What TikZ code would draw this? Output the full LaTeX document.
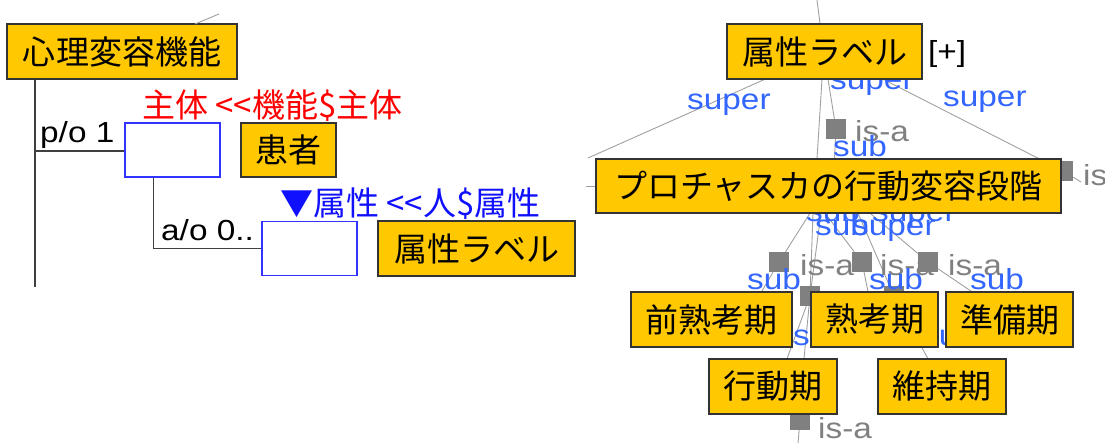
\documentclass[tikz,border=0pt]{standalone}
\usepackage{fontspec}
\usetikzlibrary{calc}
\newfontfamily\jp{Noto Sans CJK JP}
\newfontfamily\lat[FakeStretch=1.15]{Liberation Sans}
\definecolor{boxfill}{HTML}{FFC800}
\definecolor{boxline}{HTML}{333333}
\definecolor{lblue}{HTML}{3366FF}
\definecolor{dblue}{HTML}{1010FF}
\definecolor{isagray}{HTML}{808080}
\definecolor{lgray}{HTML}{A0A0A0}
\definecolor{dline}{HTML}{404040}
\definecolor{slotline}{HTML}{3333FF}
\definecolor{redlab}{HTML}{FF0000}
\begin{document}
\begin{tikzpicture}[x=1pt,y=-1pt,
 cbox/.style={draw=boxline, fill=boxfill, line width=1.3pt, inner sep=0pt,
   font=\jp\fontsize{33}{38}\selectfont, text=black},
 slot/.style={draw=slotline, fill=white, line width=1.2pt, inner sep=0pt,
   minimum width=95pt, minimum height=54pt},
 sq/.style={fill=isagray, inner sep=0pt, minimum size=20pt},
 rel/.style={draw=lgray, line width=0.9pt},
 tree/.style={draw=dline, line width=1.5pt},
 lab/.style={font=\lat\fontsize{29}{33}\selectfont, inner sep=0pt, anchor=base west},
 jlab/.style={font=\jp\fontsize{33}{38}\selectfont, inner sep=0pt, anchor=base west},
 suplab/.style={lab, text=lblue},
 isalab/.style={lab, text=isagray},
]
\useasboundingbox (0,0) rectangle (1105,443);

% ================= left part =================
\coordinate (d0) at (195,24);
\coordinate (d1) at (219,14);
\coordinate (vtop) at (35,79);
\coordinate (vb) at (35,287);
\coordinate (j1) at (35,151);

\draw[tree] (vtop) -- (vb);
\node[slot] (slotA) at (172.5,150) {};
\node[slot] (slotB) at (309.5,248.5) {};
\draw[tree] (j1) -- (slotA.west |- j1);
\draw[tree] ($(slotA.south west)+(29,0)$) |- (slotB.west);

\node[cbox, minimum width=230pt, minimum height=55pt] (shinri) at (122,51.5) {心理変容機能};
\draw[rel] (d0) -- (d1);

\node[lab] (po) at (40,143) {p/o 1};
\node[jlab, text=redlab] (shutai) at (142,118) {主体 <<機能\$主体};
\node[cbox, minimum width=95pt, minimum height=54pt] (kanja) at (288.5,150) {患者};
\node[lab] (ao) at (161,241) {a/o 0..};
\node[jlab, text=dblue] (zlab) at (280,216) {▼属性 <<人\$属性};
\node[cbox, minimum width=197pt, minimum height=55pt] (zokL) at (476.5,248.5) {属性ラベル};

% ================= right part =================
% coordinates of free ends
\coordinate (top) at (817,0);
\coordinate (lc) at (588,158);
\coordinate (ls) at (586,186);
\coordinate (isaR) at (1081,182);
\coordinate (bot) at (798,443);

% squares
\node[sq] (sqA) at (836,129) {};
\node[sq] (sqB) at (1063,171) {};
\node[sq] (sq1) at (779,262) {};
\node[sq] (sq2) at (862,262) {};
\node[sq] (sq3) at (928,262) {};
\node[sq] (sq4) at (810,296) {};
\node[sq] (sq5) at (894,296) {};
\node[sq] (sq6) at (800,420) {};

% boxes (positions only, drawn later via on background trick: define now)
\path (824.5,51.5) node[minimum width=195pt, minimum height=55pt, inner sep=0pt] (P) {};
\path (828.5,186) node[minimum width=465pt, minimum height=54pt, inner sep=0pt] (Q) {};
\path (711.5,319.5) node[minimum width=161pt, minimum height=55pt, inner sep=0pt] (B1) {};
\path (874.5,319.5) node[minimum width=127pt, minimum height=55pt, inner sep=0pt] (B2) {};
\path (1009.5,319.5) node[minimum width=127pt, minimum height=55pt, inner sep=0pt] (B3) {};
\path (773,386.5) node[minimum width=128pt, minimum height=55pt, inner sep=0pt] (B4) {};
\path (942,386.5) node[minimum width=128pt, minimum height=55pt, inner sep=0pt] (B5) {};

% connectors
\draw[rel] (top) -- ([xshift=-4.5pt]P.north);
\draw[rel] ([xshift=-2.5pt]P.south) -- ([xshift=-11.5pt]Q.north);
\draw[rel] ([xshift=3.5pt]P.south) -- (sqA) -- ([xshift=6pt]Q.north);
\draw[rel] ([xshift=-59.5pt]P.south) -- (lc);
\draw[rel] (ls) -- (Q.west);
\draw[rel] ([xshift=58.5pt]P.south) -- (sqB) -- (isaR);

\draw[rel] ([xshift=-18.5pt]Q.south) -- (sq1) -- ([xshift=50pt]B1.north);
\draw[rel] ([xshift=-15.5pt]Q.south) -- (sq4) -- ([xshift=14pt]B4.north);
\draw[rel] ([xshift=-7.5pt]Q.south) -- (sq4) -- ([xshift=31pt]B4.north);
\draw[rel] ([xshift=-3.5pt]Q.south) -- (sq2) -- ([xshift=-6.5pt]B2.north);
\draw[rel] ([xshift=29.5pt]Q.south) -- (sq5) -- ([xshift=-14pt]B5.north);
\draw[rel] ([xshift=41.5pt]Q.south) -- (sq3) -- ([xshift=-37.5pt]B3.north);
\draw[rel] ([xshift=27pt]B4.south) -- (sq6) -- (bot);

% redraw squares on top of lines
\foreach \s in {sqA,sqB,sq1,sq2,sq3,sq4,sq5,sq6}{\fill[isagray] (\s.north west) rectangle (\s.south east);}

% labels
\node[suplab] (lsup1) at (687,110) {super};
\node[suplab] (lsup2) at (830,90) {super};
\node[suplab] (lsup3) at (943,107) {super};
\node[isalab] (lisaA) at (855,142) {is-a};
\node[suplab] (lsubA) at (833,157) {sub};
\node[isalab] (lisaB) at (1083,186) {is-a};

\node[suplab] (j1a) at (806,222) {sub};
\node[suplab] (j1b) at (872,222) {super};
\node[suplab] (j2a) at (815,236) {sub};
\node[suplab] (j2b) at (852,236) {super};

\node[isalab] (lisa1) at (800,276) {is-a};
\node[isalab] (lisa2) at (880,276) {is-a};
\node[isalab] (lisa3) at (948,276) {is-a};
\node[suplab] (lsub1) at (747,290) {sub};
\node[suplab] (lsub2) at (869,290) {sub};
\node[suplab] (lsub3) at (970,290) {sub};
\node[suplab] (lsub4) at (793,345) {sub};
\node[suplab] (lsub5) at (922,345) {sub};
\node[isalab] (lisa6) at (818,438) {is-a};

% boxes on top
\node[cbox, minimum width=195pt, minimum height=55pt] at (P.center) {属性ラベル};
\node[lab] (plus) at (928,62) {[+]};
\node[cbox, minimum width=465pt, minimum height=54pt] at (Q.center) {プロチャスカの行動変容段階};
\node[cbox, minimum width=161pt, minimum height=55pt] at (B1.center) {前熟考期};
\node[cbox, minimum width=127pt, minimum height=55pt] at (B2.center) {熟考期};
\node[cbox, minimum width=127pt, minimum height=55pt] at (B3.center) {準備期};
\node[cbox, minimum width=128pt, minimum height=55pt] at (B4.center) {行動期};
\node[cbox, minimum width=128pt, minimum height=55pt] at (B5.center) {維持期};
\end{tikzpicture}
\end{document}
